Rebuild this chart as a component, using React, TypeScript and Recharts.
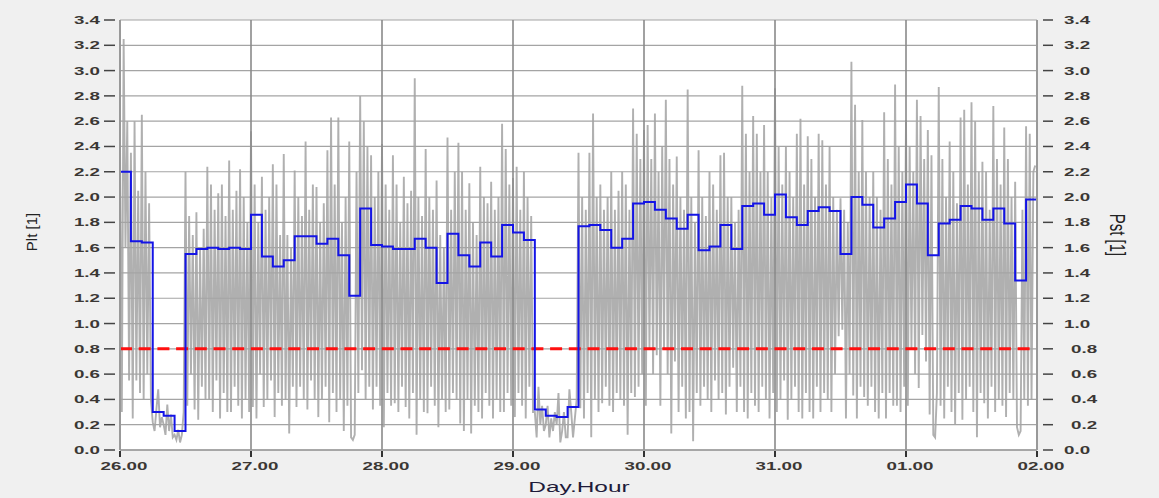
import React from "react";
import { ComposedChart, Line, XAxis, YAxis, ReferenceLine, ReferenceArea } from "recharts";

// Time axis: hours counted from 26.00
const dayTicks = [0, 24, 48, 72, 96, 120, 144, 168];
const dayLabels = ["26.00", "27.00", "28.00", "29.00", "30.00", "31.00", "01.00", "02.00"];
const valueTicks = [0, 0.2, 0.4, 0.6, 0.8, 1.0, 1.2, 1.4, 1.6, 1.8, 2.0, 2.2, 2.4, 2.6, 2.8, 3.0, 3.2, 3.4];
const PLT_LIMIT = 0.8;

// Plt, 2-hour values (12 per day)
const pltValues = [
  2.2, 1.65, 1.64, 0.3, 0.27, 0.15, 1.55, 1.59, 1.6, 1.59, 1.6, 1.59,
  1.86, 1.53, 1.45, 1.5, 1.69, 1.69, 1.63, 1.67, 1.54, 1.22, 1.91, 1.62,
  1.61, 1.59, 1.59, 1.67, 1.6, 1.32, 1.71, 1.54, 1.45, 1.64, 1.53, 1.78,
  1.72, 1.66, 0.32, 0.27, 0.26, 0.34, 1.77, 1.78, 1.74, 1.6, 1.67, 1.95,
  1.96, 1.9, 1.83, 1.75, 1.86, 1.58, 1.61, 1.78, 1.59, 1.93, 1.95, 1.86,
  2.02, 1.84, 1.78, 1.89, 1.92, 1.89, 1.55, 2.0, 1.94, 1.76, 1.83, 1.96,
  2.1, 1.95, 1.54, 1.79, 1.82, 1.93, 1.91, 1.82, 1.91, 1.79, 1.34, 1.98,
];

// Pst, 20-minute values, one array per day
const pstDay26 = [
  2.45, 0.3, 3.25, 1.6, 2.6, 0.55, 2.35, 0.25, 2.6, 0.55, 2.05, 0.45,
  2.65, 0.4, 2.2, 0.6, 1.95, 0.4, 0.22, 0.15, 0.32, 0.48, 0.18, 0.26,
  0.2, 0.12, 0.36, 0.15, 0.28, 0.1, 0.12, 0.08, 0.16, 0.06, 0.12, 0.3,
  2.2, 0.35, 1.85, 0.6, 1.7, 0.32, 1.88, 0.24, 1.6, 0.5, 1.75, 0.4,
  2.24, 0.4, 2.1, 0.3, 1.9, 0.55, 2.03, 0.25, 2.1, 0.45, 1.85, 0.3,
  2.29, 0.3, 1.9, 0.5, 2.05, 0.35, 2.22, 0.25, 2.0, 0.4, 1.8, 0.3,
];
const pstDay27 = [
  2.52, 0.34, 2.1, 0.25, 1.8, 0.6, 2.16, 0.34, 1.9, 0.4, 2.0, 0.55,
  2.26, 0.26, 2.1, 0.45, 1.7, 0.35, 2.34, 0.4, 1.7, 0.13, 1.6, 0.5,
  2.21, 0.34, 2.0, 0.5, 1.85, 0.4, 2.44, 0.32, 1.9, 0.55, 2.1, 0.4,
  2.08, 0.26, 1.8, 0.4, 1.95, 0.5, 2.37, 0.22, 2.63, 0.45, 2.1, 0.3,
  2.63, 0.4, 1.8, 0.15, 2.0, 0.35, 2.44, 0.1, 0.08, 0.12, 2.2, 0.45,
  2.8, 0.63, 2.6, 0.4, 2.4, 0.5, 2.33, 0.32, 2.0, 0.5, 2.2, 0.35,
];
const pstDay28 = [
  2.42, 0.18, 2.1, 0.45, 1.9, 0.35, 2.33, 0.37, 2.1, 0.3, 1.8, 0.5,
  2.16, 0.34, 1.95, 0.25, 2.05, 0.45, 2.94, 0.12, 2.0, 0.4, 1.85, 0.3,
  2.38, 0.29, 2.0, 0.5, 1.9, 0.35, 2.13, 0.18, 1.7, 0.4, 1.6, 0.3,
  2.47, 0.32, 1.9, 0.45, 2.2, 0.4, 2.43, 0.21, 2.2, 0.15, 1.9, 0.4,
  2.11, 0.13, 1.8, 0.35, 1.7, 0.3, 2.24, 0.25, 2.0, 0.45, 1.95, 0.35,
  2.12, 0.25, 1.9, 0.4, 2.0, 0.3, 2.58, 0.3, 2.38, 0.45, 2.1, 0.35,
];
const pstDay29 = [
  2.15, 0.26, 2.24, 0.45, 1.9, 0.35, 2.2, 0.25, 2.0, 0.5, 1.85, 0.3,
  0.3, 0.1, 0.5, 0.2, 0.35, 0.15, 0.2, 0.35, 0.1, 0.25, 0.15, 0.3,
  0.2, 0.45, 0.06, 0.15, 0.3, 0.1, 0.1, 0.48, 0.3, 0.1, 0.25, 0.4,
  2.35, 0.33, 2.0, 0.25, 1.9, 0.45, 2.35, 0.1, 2.66, 0.4, 2.0, 0.3,
  2.1, 0.37, 1.9, 0.5, 2.0, 0.35, 2.2, 0.3, 1.9, 0.45, 2.05, 0.4,
  2.2, 0.35, 2.1, 0.12, 1.9, 0.45, 2.7, 0.42, 2.5, 0.5, 2.3, 0.6,
];
const pstDay30 = [
  2.53, 0.35, 2.57, 0.8, 2.3, 0.6, 2.66, 0.75, 2.2, 0.35, 2.4, 0.8,
  2.77, 0.6, 2.3, 0.13, 2.1, 0.7, 2.32, 0.3, 2.0, 0.5, 1.9, 0.25,
  2.85, 0.3, 2.0, 0.07, 1.8, 0.45, 2.37, 0.35, 2.0, 0.5, 1.85, 0.4,
  2.2, 0.3, 2.1, 0.55, 1.9, 0.4, 2.33, 0.45, 2.35, 0.28, 2.0, 0.5,
  2.0, 0.65, 1.8, 0.3, 1.9, 0.5, 2.88, 0.3, 2.5, 0.25, 2.2, 0.45,
  2.64, 0.35, 2.5, 0.3, 2.2, 0.5, 2.57, 0.4, 2.2, 0.25, 2.0, 0.45,
];
const pstDay31 = [
  2.86, 0.3, 2.4, 0.4, 2.1, 0.55, 2.4, 0.24, 2.2, 0.4, 2.0, 0.5,
  2.5, 0.3, 2.62, 0.25, 2.1, 0.45, 2.48, 0.3, 2.3, 0.25, 2.0, 0.5,
  2.5, 0.3, 2.45, 0.45, 2.1, 0.4, 2.4, 0.3, 2.0, 0.6, 1.9, 0.9,
  1.99, 0.95, 1.9, 0.25, 1.8, 0.6, 3.07, 0.43, 2.73, 0.25, 2.2, 0.5,
  2.61, 0.42, 2.2, 0.35, 2.0, 0.5, 2.2, 0.3, 2.0, 0.25, 1.9, 0.45,
  2.67, 0.25, 2.3, 0.45, 2.1, 0.35, 2.89, 0.35, 2.4, 0.3, 2.2, 0.5,
];
const pstDay01 = [
  2.61, 0.35, 2.4, 0.8, 2.2, 0.6, 2.77, 0.49, 2.64, 0.91, 2.3, 0.7,
  2.53, 0.28, 2.33, 0.12, 0.1, 0.45, 2.87, 0.35, 2.3, 0.25, 2.0, 0.5,
  2.44, 0.3, 2.2, 0.2, 1.95, 0.45, 2.63, 0.24, 2.69, 0.4, 2.1, 0.5,
  2.75, 0.3, 2.6, 0.1, 2.2, 0.45, 2.28, 0.37, 2.2, 0.25, 1.9, 0.5,
  2.72, 0.3, 2.3, 0.4, 2.1, 0.35, 2.55, 0.26, 2.3, 0.45, 2.0, 0.4,
  2.12, 0.18, 0.12, 0.15, 1.9, 0.4, 2.56, 0.35, 2.5, 0.4, 2.2, 2.25,
];

const pstValues = [...pstDay26, ...pstDay27, ...pstDay28, ...pstDay29, ...pstDay30, ...pstDay31, ...pstDay01];
const pstData = pstValues.map((v, i) => ({ t: i / 3, pst: v }));
// each Plt value holds for the following two hours; the last one is closed at 02.00
const pltData = [
  ...pltValues.map((v, i) => ({ t: i * 2, plt: v })),
  { t: 168, plt: pltValues[pltValues.length - 1] },
];

const W = 1159;
const H = 498;
const PLOT_L = 120;
const PLOT_R = 1037;
const PLOT_T = 20;
const PLOT_B = 450;
const STRETCH = 1.63;
const FONT = "'Liberation Sans', Arial, sans-serif";
const TICK_COLOR = "#3b3734";

const LeftTick = (props: any) => {
  const { y, payload } = props;
  return (
    <g>
      <line x1={PLOT_L - 16} x2={PLOT_L - 5} y1={y} y2={y} stroke="#444" strokeWidth={1.5} />
      <text
        transform={`translate(${PLOT_L - 20},${y + 4}) scale(${STRETCH},1)`}
        textAnchor="end"
        fontSize={11.5}
        fontWeight="bold"
        fontFamily={FONT}
        fill={TICK_COLOR}
      >
        {Number(payload.value).toFixed(1)}
      </text>
    </g>
  );
};

const RightTick = (props: any) => {
  const { y, payload } = props;
  const v = Number(payload.value);
  const shift = v > 0.1 && v < 0.9 ? 7 : 0;
  return (
    <g>
      <line x1={PLOT_R + 6} x2={PLOT_R + 16} y1={y} y2={y} stroke="#444" strokeWidth={1.5} />
      <text
        transform={`translate(${PLOT_R + 27 + shift},${y + 4}) scale(${STRETCH},1)`}
        textAnchor="start"
        fontSize={11.5}
        fontWeight="bold"
        fontFamily={FONT}
        fill={TICK_COLOR}
      >
        {v.toFixed(1)}
      </text>
    </g>
  );
};

const BottomTick = (props: any) => {
  const { x, payload } = props;
  const idx = dayTicks.indexOf(payload.value);
  return (
    <g>
      <line x1={x} x2={x} y1={PLOT_B + 1} y2={PLOT_B + 7} stroke="#333" strokeWidth={2} />
      <text
        transform={`translate(${x + 4},${PLOT_B + 20}) scale(${STRETCH},1)`}
        textAnchor="middle"
        fontSize={11.5}
        fontWeight="bold"
        fontFamily={FONT}
        fill={TICK_COLOR}
      >
        {dayLabels[idx]}
      </text>
    </g>
  );
};

export default function App() {
  return (
    <div style={{ position: "absolute", left: 0, top: 0, width: W, height: H, background: "#f0f0f0" }}>
      <ComposedChart width={W} height={H} margin={{ top: PLOT_T, right: 0, bottom: 0, left: 0 }}>
        <XAxis
          type="number"
          dataKey="t"
          domain={[0, 168]}
          ticks={dayTicks}
          height={H - PLOT_B}
          tick={<BottomTick />}
          tickLine={false}
          axisLine={{ stroke: "#9a9a9a", strokeWidth: 1.5 }}
          allowDataOverflow
        />
        <YAxis
          yAxisId="plt"
          orientation="left"
          width={PLOT_L}
          domain={[0, 3.4]}
          ticks={valueTicks}
          tick={<LeftTick />}
          tickLine={false}
          axisLine={{ stroke: "#999", strokeWidth: 2 }}
          allowDataOverflow
        />
        <YAxis
          yAxisId="pst"
          orientation="right"
          width={W - PLOT_R}
          domain={[0, 3.4]}
          ticks={valueTicks}
          tick={<RightTick />}
          tickLine={false}
          axisLine={{ stroke: "#999", strokeWidth: 2 }}
          allowDataOverflow
        />
        <ReferenceArea yAxisId="plt" x1={0} x2={168} y1={0} y2={3.4} fill="#ffffff" fillOpacity={1} stroke="none" />
        <Line
          yAxisId="pst"
          data={pstData}
          dataKey="pst"
          type="linear"
          stroke="#b0b0b0"
          strokeWidth={1.9}
          dot={false}
          activeDot={false}
          isAnimationActive={false}
        />
        {valueTicks.map((v) => (
          <ReferenceLine key={`h${v}`} yAxisId="plt" y={v} stroke="#a4a4a4" strokeWidth={1.2} />
        ))}
        {dayTicks.map((t) => (
          <ReferenceLine key={`v${t}`} yAxisId="plt" x={t} stroke="#8a8a8a" strokeWidth={1.6} />
        ))}
        <ReferenceLine yAxisId="plt" y={PLT_LIMIT} stroke="#ff1010" strokeWidth={3} strokeDasharray="12 6.7" />
        <Line
          yAxisId="plt"
          data={pltData}
          dataKey="plt"
          type="stepAfter"
          stroke="#1414e6"
          strokeWidth={2}
          dot={false}
          activeDot={false}
          isAnimationActive={false}
        />
        <text transform={`translate(37,232) rotate(-90)`} textAnchor="middle" fontSize={15} fontFamily={FONT} fill="#222">
          Plt [1]
        </text>
        <text transform={`translate(1110,235) scale(1.5,1) rotate(90)`} textAnchor="middle" fontSize={15} fontFamily={FONT} fill="#222">
          Pst [1]
        </text>
        <text
          transform={`translate(579,492) scale(${STRETCH},1)`}
          textAnchor="middle"
          fontSize={15}
          fontFamily={FONT}
          fill="#1e1b3a"
        >
          Day.Hour
        </text>
      </ComposedChart>
    </div>
  );
}
